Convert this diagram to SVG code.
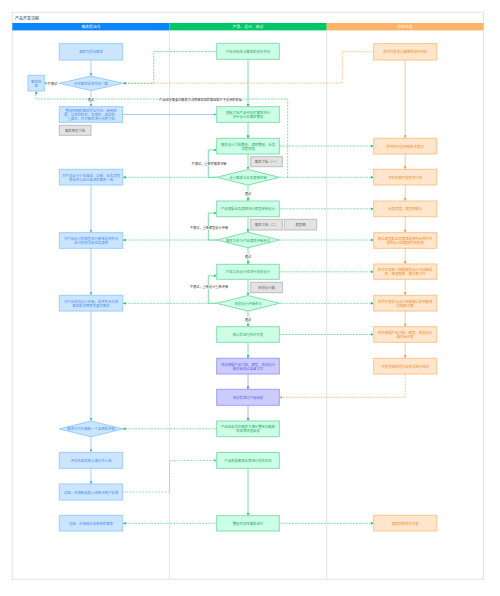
<svg xmlns="http://www.w3.org/2000/svg" width="500" height="596" viewBox="0 0 500 596">
<style>
.t{font-family:"Noto Sans CJK SC","Liberation Sans",sans-serif;font-size:3.4px;text-anchor:middle;dominant-baseline:central}
.h{fill:#fff;font-size:3.8px}
.bb{fill:#cce5ff;stroke:#99ccff;stroke-width:1}
.gb{fill:#ccffe6;stroke:#80dfae;stroke-width:1}
.ob{fill:#ffe6cc;stroke:#ffc38a;stroke-width:1}
.pb{fill:#ccccff;stroke:#9f9ff5;stroke-width:1}
.xb{fill:#e3e3e3;stroke:#bdbdbd;stroke-width:1}
.bt{fill:#4a90f0}.gt{fill:#2aa866}.ot{fill:#f08a2a}.pt{fill:#6060e8}.xt{fill:#666}.lt{fill:#333;font-size:3.2px}
.l{fill:none;stroke-width:0.8}
.lb{stroke:#8cc4ff}.lg{stroke:#5ad896}.lo{stroke:#ffb672}.lp{stroke:#9f9ff5}
.d{stroke-dasharray:2 1.2}
.bg{fill:#fff}
</style>
<defs>
<marker id="ab" markerUnits="userSpaceOnUse" markerWidth="3" markerHeight="3" refX="3" refY="1.5" orient="auto"><path d="M0,0L3,1.5L0,3z" fill="#5aa8ff"/></marker>
<marker id="ag" markerUnits="userSpaceOnUse" markerWidth="3" markerHeight="3" refX="3" refY="1.5" orient="auto"><path d="M0,0L3,1.5L0,3z" fill="#1fc46e"/></marker>
<marker id="ao" markerUnits="userSpaceOnUse" markerWidth="3" markerHeight="3" refX="3" refY="1.5" orient="auto"><path d="M0,0L3,1.5L0,3z" fill="#ff9a3c"/></marker>
<marker id="ap" markerUnits="userSpaceOnUse" markerWidth="3" markerHeight="3" refX="3" refY="1.5" orient="auto"><path d="M0,0L3,1.5L0,3z" fill="#7b7bf0"/></marker>
</defs>
<rect width="500" height="596" fill="#fff"/>
<g id="frame">
<rect x="12.3" y="12.3" width="471.2" height="567" fill="#fff" stroke="#e2e2e2" stroke-width="1"/>
<text class="t" x="15" y="17.6" style="text-anchor:start;font-size:4px;fill:#333">产品开发流程</text>
<rect x="12.3" y="23" width="157.2" height="7.4" fill="#0a84ff"/>
<rect x="169.5" y="23" width="157.2" height="7.4" fill="#00c765"/>
<rect x="326.7" y="23" width="156.8" height="7.4" fill="#ffb366"/>
<text class="t h" x="91" y="26.7">需求提出方</text>
<text class="t h" x="248" y="26.7">产品、设计、测试</text>
<text class="t h" x="405" y="26.7">技术开发</text>
<line x1="169.5" y1="30.4" x2="169.5" y2="579.3" stroke="#e2e2e2" stroke-width="1"/>
<line x1="326.7" y1="30.4" x2="326.7" y2="579.3" stroke="#e2e2e2" stroke-width="1"/>
</g>
<g id="connectors">
<path class="l lo d" d="M373.7,51.7H342.3V83.1H122.7"/>
<path class="l lg d" d="M216.7,51.5H153.7V83.3H122.9" marker-end="url(#ag)"/>
<path class="l lg d" d="M287.7,177.3V99H36V91.2" marker-end="url(#ag)"/>
<path class="l lb" d="M91,60V76" marker-end="url(#ab)"/>
<path class="l lb" d="M91,90.6V106.7" marker-end="url(#ab)"/>
<path class="l lb" d="M59.3,83.3H44.3" marker-end="url(#ab)"/>
<path class="l lb" d="M122.7,114.5H216.7" marker-end="url(#ab)"/>
<path class="l lb" d="M91,185V232.7" marker-end="url(#ab)"/>
<path class="l lb" d="M91,248.3V295.3" marker-end="url(#ab)"/>
<path class="l lb" d="M91,311V421" marker-end="url(#ab)"/>
<path class="l lb" d="M91,436.8V452.3" marker-end="url(#ab)"/>
<path class="l lb" d="M91,468.3V484" marker-end="url(#ab)"/>
<path class="l lb d" d="M122.7,492H169.5V460.4H216.7" marker-end="url(#ab)"/>
<path class="l lg" d="M248,59.3V106.7" marker-end="url(#ag)"/>
<path class="l lg" d="M248,122.3V138.3" marker-end="url(#ag)"/>
<path class="l lg" d="M248,154V169.5" marker-end="url(#ag)"/>
<path class="l lg" d="M248,185.1V201" marker-end="url(#ag)"/>
<path class="l lg" d="M248,216.7V232.2" marker-end="url(#ag)"/>
<path class="l lg" d="M248,247.8V264.3" marker-end="url(#ag)"/>
<path class="l lg" d="M248,279.3V295.5" marker-end="url(#ag)"/>
<path class="l lg" d="M248,311.1V326.7" marker-end="url(#ag)"/>
<path class="l lg" d="M248,342.3V358.3" marker-end="url(#ag)"/>
<path class="l lp" d="M248,374V389.3" marker-end="url(#ap)"/>
<path class="l lp" d="M248,405.3V421" marker-end="url(#ap)"/>
<path class="l lg" d="M248,468.3V515.7" marker-end="url(#ag)"/>
<path class="l lg" d="M216.7,177.3H208.3V150H216.7" marker-end="url(#ag)"/>
<path class="l lg" d="M216.7,240H208.3V213H216.7" marker-end="url(#ag)"/>
<path class="l lg" d="M216.7,303.3H208.3V275.8H216.7" marker-end="url(#ag)"/>
<path class="l lg d" d="M279.3,146H373.7" marker-end="url(#ag)"/>
<path class="l lg d" d="M279.3,177.3H373.7" marker-end="url(#ag)"/>
<path class="l lg d" d="M216.7,177.3H122.7" marker-end="url(#ag)"/>
<path class="l lg d" d="M279.3,208.8H373.7" marker-end="url(#ag)"/>
<path class="l lg d" d="M216.7,240H122.7" marker-end="url(#ag)"/>
<path class="l lg d" d="M279.3,240H373.7" marker-end="url(#ag)"/>
<path class="l lg d" d="M279.3,271.8H373.7" marker-end="url(#ag)"/>
<path class="l lg d" d="M216.7,303.3H122.7" marker-end="url(#ag)"/>
<path class="l lg d" d="M279.3,303.3H373.7" marker-end="url(#ag)"/>
<path class="l lg d" d="M279.3,334.5H373.7" marker-end="url(#ag)"/>
<path class="l lg d" d="M216.7,428.8H122.7" marker-end="url(#ag)"/>
<path class="l lg d" d="M216.7,523.3H122.7" marker-end="url(#ag)"/>
<path class="l lg d" d="M279.3,523.3H373.7" marker-end="url(#ag)"/>
<path class="l lo" d="M405.2,60V138.3" marker-end="url(#ao)"/>
<path class="l lo" d="M405.2,154V169.3" marker-end="url(#ao)"/>
<path class="l lo" d="M405.2,185V201" marker-end="url(#ao)"/>
<path class="l lo" d="M405.2,216.7V232.7" marker-end="url(#ao)"/>
<path class="l lo" d="M405.2,248.3V264" marker-end="url(#ao)"/>
<path class="l lo" d="M405.2,279.3V295.3" marker-end="url(#ao)"/>
<path class="l lo" d="M405.2,311V326.7" marker-end="url(#ao)"/>
<path class="l lo" d="M405.2,342.3V358.3" marker-end="url(#ao)"/>
<path class="l lo d" d="M405.2,374V397.3H279.3" marker-end="url(#ao)"/>
<g id="edge-labels">
<rect class="bg" x="46.8" y="81.4" width="11" height="3.8"/><text class="t lt" x="52.3" y="83.3">不通过</text>
<rect class="bg" x="87" y="97.1" width="8" height="3.8"/><text class="t lt" x="91" y="99">通过</text>
<rect class="bg" x="158" y="97.1" width="85" height="3.8"/><text class="t lt" x="200.5" y="99">产品经理需要向需求方说明被驳回的原因和不予支持的依据</text>
<rect class="bg" x="191" y="161.8" width="36" height="3.8"/><text class="t lt" x="209" y="163.7">不通过，重新写需求评审</text>
<rect class="bg" x="244" y="191.4" width="8" height="3.8"/><text class="t lt" x="248" y="193.3">通过</text>
<rect class="bg" x="188" y="225.8" width="42" height="3.8"/><text class="t lt" x="209" y="227.7">不通过，重新原型设计评审</text>
<rect class="bg" x="244" y="254.8" width="8" height="3.8"/><text class="t lt" x="248" y="256.7">通过</text>
<rect class="bg" x="188" y="284.8" width="42" height="3.8"/><text class="t lt" x="209" y="286.7">不通过，重新设计重新评审</text>
<rect class="bg" x="244" y="317.1" width="8" height="3.8"/><text class="t lt" x="248" y="319">通过</text>
</g>
</g>
<g id="b1"><rect class="bb" x="59.3" y="43.7" width="63.4" height="16.3"/><text class="t bt" x="91" y="51.9">需求方提出需求</text></g>
<g id="bd1"><path class="bb" d="M59.3,83.3L91,76L122.7,83.3L91,90.6z"/><text class="t bt" x="91" y="83.3">评估需求是否符合门槛</text></g>
<g id="breject"><rect class="bb" x="28" y="75.3" width="16.3" height="15.7"/><text class="t bt" x="36.2" y="81.2">需求驳</text><text class="t bt" x="36.2" y="85.2">回</text></g>
<g id="b3"><rect class="bb" x="59.3" y="106.7" width="63.4" height="15.6"/><text class="t bt" x="91" y="110.5">整理明确的需求提出方向、使用场</text><text class="t bt" x="91" y="114.5">景、达到的效果、关键性、紧迫性、</text><text class="t bt" x="91" y="118.5">重要性，并对需求进行说明文档</text></g>
<g id="bx1"><rect class="xb" x="59.3" y="125.3" width="31.7" height="10"/><text class="t xt" x="75.1" y="130.3">需求相关文档</text></g>
<g id="b4"><rect class="bb" x="59.3" y="169.3" width="63.4" height="15.7"/><text class="t bt" x="91" y="175.2">对产品设计文档描述、功能、业务流程</text><text class="t bt" x="91" y="179.2">等是否与自己描述的需求一致</text></g>
<g id="b5"><rect class="bb" x="59.3" y="232.7" width="63.4" height="15.6"/><text class="t bt" x="91" y="238.5">对产品设计的原型进行审核是否符合</text><text class="t bt" x="91" y="242.5">自己的想法和业务逻辑</text></g>
<g id="b6"><rect class="bb" x="59.3" y="295.3" width="63.4" height="15.7"/><text class="t bt" x="91" y="301.2">对产品视觉设计评审，是否符合市场</text><text class="t bt" x="91" y="305.2">需求和消费者的喜好需求</text></g>
<g id="bd2"><path class="bb" d="M59.3,428.9L91,421L122.7,428.9L91,436.8z"/><text class="t bt" x="91" y="428.9">需求方对功能做一个全面的评审</text></g>
<g id="b8"><rect class="bb" x="59.3" y="452.3" width="63.4" height="16"/><text class="t bt" x="91" y="460.3">评估合格后确认通过并上线</text></g>
<g id="b9"><rect class="bb" x="59.3" y="484" width="63.4" height="16"/><text class="t bt" x="91" y="492">运营、市场数据和上线情况用户反馈</text></g>
<g id="b10"><rect class="bb" x="59.3" y="515.3" width="63.4" height="15.7"/><text class="t bt" x="91" y="523.2">运营、市场部分收集新的需求</text></g>
<g id="g1"><rect class="gb" x="216.7" y="43.3" width="62.6" height="16"/><text class="t gt" x="248" y="51.3">产品经理参与需求的初步评估</text></g>
<g id="g2"><rect class="gb" x="216.7" y="106.7" width="62.6" height="15.6"/><text class="t gt" x="248" y="112.5">根据文档产品经理对需求进行</text><text class="t gt" x="248" y="116.5">初步设计及需求整理</text></g>
<g id="g3"><rect class="gb" x="216.7" y="138.3" width="62.6" height="15.7"/><text class="t gt" x="248" y="144.2">需求设计文档整理、逻辑整理、业务</text><text class="t gt" x="248" y="148.2">流程梳理</text></g>
<g id="gx1"><rect class="xb" x="250.7" y="156.7" width="31.6" height="10"/><text class="t xt" x="266.5" y="161.7">需求文档（一）</text></g>
<g id="gd1"><path class="gb" d="M216.7,177.3L248,169.5L279.3,177.3L248,185.1z"/><text class="t gt" x="248" y="177.3">设计需求与业务逻辑评审</text></g>
<g id="g4"><rect class="gb" x="216.7" y="201" width="62.6" height="15.7"/><text class="t gt" x="248" y="208.9">产品根据业务逻辑进行原型绘制设计</text></g>
<g id="gx2"><rect class="xb" x="250.7" y="219.3" width="31.6" height="10.7"/><text class="t xt" x="266.5" y="224.7">需求文档（二）</text></g>
<g id="gx3"><rect class="xb" x="284.3" y="219.3" width="32.4" height="10.7"/><text class="t xt" x="300.5" y="224.7">原型图</text></g>
<g id="gd2"><path class="gb" d="M216.7,240L248,232.2L279.3,240L248,247.8z"/><text class="t gt" x="248" y="240">需求方参与产品逻辑评审会议</text></g>
<g id="g5"><rect class="gb" x="216.7" y="264.3" width="62.6" height="15"/><text class="t gt" x="248" y="271.8">产品交由设计师进行视觉设计</text></g>
<g id="gx4"><rect class="xb" x="250.7" y="282.3" width="31.6" height="10.4"/><text class="t xt" x="266.5" y="287.5">视觉设计稿</text></g>
<g id="gd3"><path class="gb" d="M216.7,303.3L248,295.5L279.3,303.3L248,311.1z"/><text class="t gt" x="248" y="303.3">视觉设计评审会议</text></g>
<g id="g6"><rect class="gb" x="216.7" y="326.7" width="62.6" height="15.6"/><text class="t gt" x="248" y="334.5">确认后进行技术开发</text></g>
<g id="p7"><rect class="pb" x="216.7" y="358.3" width="62.6" height="15.7"/><text class="t pt" x="248" y="364.2">测试根据产品文档、原型、视觉设计</text><text class="t pt" x="248" y="368.2">稿开始测试准备工作</text></g>
<g id="p8"><rect class="pb" x="216.7" y="389.3" width="62.6" height="16"/><text class="t pt" x="248" y="397.3">测试后进行产品验收</text></g>
<g id="g9"><rect class="gb" x="216.7" y="421" width="62.6" height="15.7"/><text class="t gt" x="248" y="426.9">产品验收后向需求方演示整体功能和</text><text class="t gt" x="248" y="430.9">效果等待其验收</text></g>
<g id="g10"><rect class="gb" x="216.7" y="452.5" width="62.6" height="15.8"/><text class="t gt" x="248" y="460.4">产品根据需求反馈进行修改优化</text></g>
<g id="g11"><rect class="gb" x="216.7" y="515.7" width="62.6" height="15.3"/><text class="t gt" x="248" y="523.3">整理并修改需求迭代</text></g>
<g id="o1"><rect class="ob" x="373.7" y="43.7" width="63" height="16.3"/><text class="t ot" x="405.2" y="51.9">技术开发参与需求的初步评估</text></g>
<g id="o2"><rect class="ob" x="373.7" y="138.3" width="63" height="15.7"/><text class="t ot" x="405.2" y="146.1">提供技术支持和技术建议</text></g>
<g id="o3"><rect class="ob" x="373.7" y="169.3" width="63" height="15.7"/><text class="t ot" x="405.2" y="177.2">评估系统开发的可行性</text></g>
<g id="o4"><rect class="ob" x="373.7" y="201" width="63" height="15.7"/><text class="t ot" x="405.2" y="208.9">业务流程、原型的确认</text></g>
<g id="o5"><rect class="ob" x="373.7" y="232.7" width="63" height="15.6"/><text class="t ot" x="405.2" y="238.5">确认原型和业务逻辑是否符合技术开</text><text class="t ot" x="405.2" y="242.5">发的设计进度和时间规划</text></g>
<g id="o6"><rect class="ob" x="373.7" y="264" width="63" height="15.3"/><text class="t ot" x="405.2" y="269.7">技术开发部门根据原型设计开始数据</text><text class="t ot" x="405.2" y="273.7">库、搭建框架、接口等工作</text></g>
<g id="o7"><rect class="ob" x="373.7" y="295.3" width="63" height="15.7"/><text class="t ot" x="405.2" y="301.2">技术开发参与设计评审确认是否能够</text><text class="t ot" x="405.2" y="305.2">实现和方案</text></g>
<g id="o8"><rect class="ob" x="373.7" y="326.7" width="63" height="15.6"/><text class="t ot" x="405.2" y="332.5">技术根据产品文档、原型、视觉设计</text><text class="t ot" x="405.2" y="336.5">稿开始开发</text></g>
<g id="o9"><rect class="ob" x="373.7" y="358.3" width="63" height="15.7"/><text class="t ot" x="405.2" y="366.2">开发完成后提交给测试进行测试</text></g>
<g id="o10"><rect class="ob" x="373.7" y="515.3" width="63" height="15.7"/><text class="t ot" x="405.2" y="523.2">变更后的技术开发</text></g>
</svg>
